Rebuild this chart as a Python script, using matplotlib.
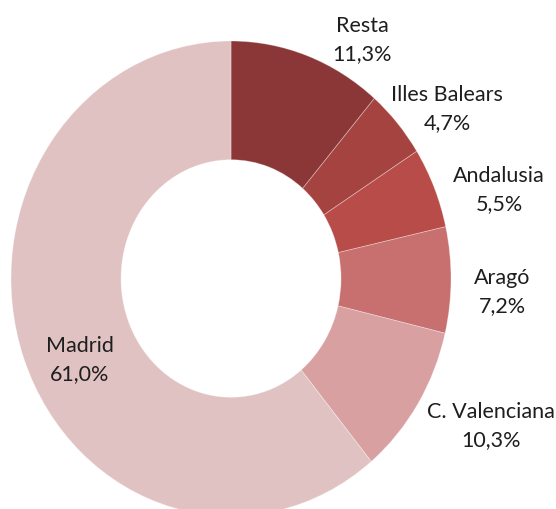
import matplotlib
matplotlib.use("Agg")
import matplotlib.pyplot as plt

# Share by region (%), clockwise from 12 o'clock
regions = ["Resta", "Illes Balears", "Andalusia", "Aragó", "C. Valenciana", "Madrid"]
shares = [11.3, 4.7, 5.5, 7.2, 10.3, 61.0]
colors = ["#8B3737", "#A54341", "#B84C49", "#C8706F", "#D8A0A0", "#E1C2C3"]

# label block centres in pixels (x from left, y from top)
label_px = [(362, 40), (447, 109), (499, 190), (502, 292), (491, 426), (80, 360)]

W, H = 556, 510
fig = plt.figure(figsize=(W / 100, H / 100), dpi=100)

# ring is a bit taller than wide in the reference: cx=231, cy=279.5, rx=220, ry=237.5
cx, cy, rx, ry = 231, 279.5, 220, 237.5
ax = fig.add_axes([(cx - rx) / W, (H - cy - ry) / H, 2 * rx / W, 2 * ry / H])

ax.pie(
    shares,
    colors=colors,
    startangle=90,
    counterclock=False,
    radius=1.0,
    wedgeprops=dict(width=0.5, linewidth=0.6, edgecolor=(1, 1, 1, 0.35)),
)
ax.set_aspect("auto")
ax.set_xlim(-1, 1)
ax.set_ylim(-1, 1)
ax.axis("off")

for name, val, (px, py) in zip(regions, shares, label_px):
    pct = f"{val:.1f}".replace(".", ",") + "%"
    fig.text(px / W, 1 - py / H, f"{name}\n{pct}", ha="center", va="center",
             fontsize=15.5, family="Lato", color="#1E1E1E", linespacing=1.5)

fig.savefig("out.png", dpi=100)
